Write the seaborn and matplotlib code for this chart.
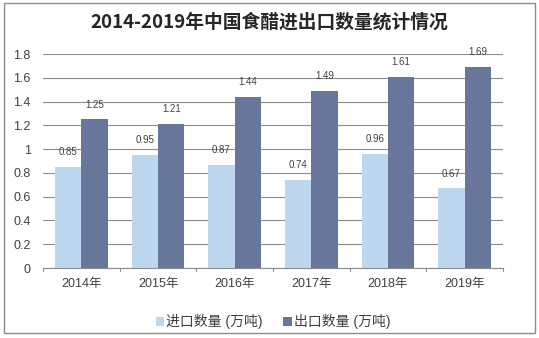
import matplotlib
matplotlib.use("Agg")
import matplotlib.pyplot as plt
import seaborn as sns
import pandas as pd
from matplotlib.patches import Rectangle

years = ["2014年", "2015年", "2016年", "2017年", "2018年", "2019年"]
imports = [0.85, 0.95, 0.87, 0.74, 0.96, 0.67]
exports = [1.25, 1.21, 1.44, 1.49, 1.61, 1.69]
series = ["进口数量 (万吨)", "出口数量 (万吨)"]
yticks = [0, 0.2, 0.4, 0.6, 0.8, 1, 1.2, 1.4, 1.6, 1.8]
ytick_labels = ["0", "0.2", "0.4", "0.6", "0.8", "1", "1.2", "1.4", "1.6", "1.8"]

df = pd.DataFrame({
    "year": years * 2,
    "value": imports + exports,
    "series": [series[0]] * len(years) + [series[1]] * len(years),
})

sns.set_theme(style="white")
plt.rcParams['font.family'] = ['Liberation Sans', 'Noto Sans CJK SC', 'DejaVu Sans']

fig = plt.figure(figsize=(5.39, 3.38), dpi=100)
ax = fig.add_axes([0.080, 0.207, 0.853, 0.633])
colors = ["#BDD7EE", "#68769C"]
sns.barplot(data=df, x="year", y="value", hue="series", palette=colors,
            width=0.69, ax=ax, saturation=1, legend=True,
            edgecolor="none", linewidth=0)

ax.set_ylim(0, 1.8)
ax.set_yticks(yticks)
ax.set_yticklabels(ytick_labels, fontsize=9, color="#404040")
ax.set_xlabel("")
ax.set_ylabel("")
ax.tick_params(axis="x", labelsize=9, colors="#404040", length=0, pad=7)
ax.tick_params(axis="y", length=0, pad=9)
ax.yaxis.grid(True, color="#8C8C8C", linewidth=0.8)
ax.set_axisbelow(True)
for s in ["top", "right", "left"]:
    ax.spines[s].set_visible(False)
ax.spines["bottom"].set_color("#8C8C8C")
ax.spines["bottom"].set_linewidth(0.8)
for b in [-0.5, 0.5, 1.5, 2.5, 3.5, 4.5, 5.5]:
    ax.plot([b, b], [0, -0.025], color="#8C8C8C", lw=0.8, clip_on=False)
ax.set_xlim(-0.5, 5.5)

for cont in ax.containers:
    ax.bar_label(cont, labels=[f"{v:.2f}" for v in cont.datavalues],
                 fontsize=7, color="#404040", padding=7)

handles, labels = ax.get_legend_handles_labels()
ax.legend(handles, labels, loc="lower center", bbox_to_anchor=(0.5, -0.345),
          ncol=2, frameon=False, fontsize=10, handlelength=0.6, handleheight=0.6,
          handletextpad=0.15, columnspacing=1.5, labelcolor="#404040")

fig.text(0.5, 0.935, "2014-2019年中国食醋进出口数量统计情况", ha="center", va="center",
         fontsize=13.5, fontweight="bold", color="#262626",
         family=['Noto Sans CJK SC', 'DejaVu Sans'])

fig.patches.append(Rectangle((0.008, 0.015), 0.984, 0.975, transform=fig.transFigure,
                             fill=False, edgecolor="#8C8C8C", linewidth=1))

fig.savefig("out.png", dpi=100)
